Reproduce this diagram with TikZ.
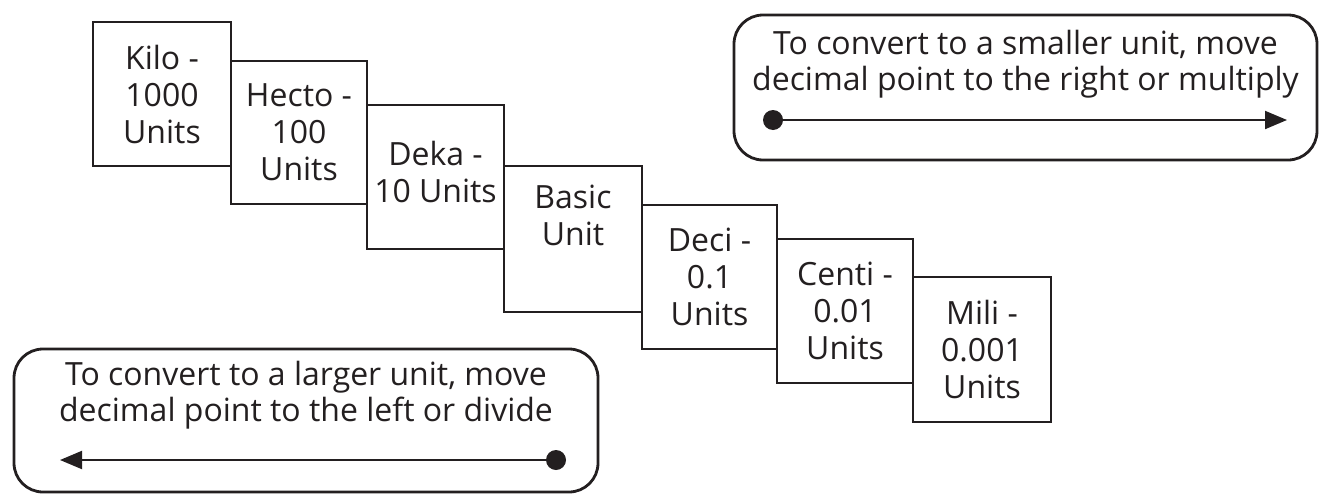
\documentclass[tikz,border=0pt]{standalone}
\usepackage{fontspec}
\setmainfont{Open Sans}
\usetikzlibrary{arrows.meta}
\definecolor{ink}{HTML}{231F20}
\begin{document}
\begin{tikzpicture}[x=1pt,y=1pt,
  unitbox/.style={draw=ink, line width=2.8pt, fill=white, align=center, inner sep=0pt,
    font=\fontsize{32}{37}\selectfont, text=ink},
  boxtext/.style={align=center, inner sep=0pt, font=\fontsize{32}{37}\selectfont, text=ink},
  notebox/.style={draw=ink, line width=2.8pt, rounded corners=29pt, inner sep=0pt},
  notetext/.style={align=center, inner sep=0pt, font=\fontsize{32}{36}\selectfont, text=ink},
  convarrow/.style={draw=ink, line width=2pt, -{Triangle[length=22pt,width=18pt]}}
]
\useasboundingbox (0,0) rectangle (1323,-498);
% unit boxes
\node[unitbox, minimum width=138pt, minimum height=144pt] (kilo) at (162,-94) {Kilo -\\1000\\Units};
\node[unitbox, minimum width=136pt, minimum height=143pt] (hecto) at (299,-132.5) {Hecto -\\100\\Units};
\node[unitbox, minimum width=137pt, minimum height=144pt] (deka) at (435.5,-177) {};
\node[boxtext] (dekatext) at ([yshift=5pt]deka.center) {Deka -\\10 Units};
\node[unitbox, minimum width=138pt, minimum height=146pt] (basic) at (573,-239) {Basic\\Unit\\\strut};
\node[unitbox, minimum width=135pt, minimum height=144pt] (deci) at (709.5,-277) {Deci -\\0.1\\Units};
\node[unitbox, minimum width=136pt, minimum height=144pt] (centi) at (845,-311) {Centi -\\0.01\\Units};
\node[unitbox, minimum width=138pt, minimum height=145pt] (mili) at (982,-349.5) {Mili -\\0.001\\Units};
% smaller-unit note
\node[notebox, minimum width=583pt, minimum height=145pt] (smallbox) at (1025.5,-87.5) {};
\node[notetext] (smalltext) at (1025.5,-64.5) {To convert to a smaller unit, move\\decimal point to the right or multiply};
\coordinate (s1) at (773,-120);
\coordinate (s2) at (1287,-120);
\draw[convarrow] (s1) -- (s2);
\fill[ink] (s1) circle (10pt);
% larger-unit note
\node[notebox, minimum width=584pt, minimum height=143pt] (largebox) at (306,-420.5) {};
\node[notetext] (largetext) at (306,-395.5) {To convert to a larger unit, move\\decimal point to the left or divide};
\coordinate (l1) at (556,-460);
\coordinate (l2) at (60,-460);
\draw[convarrow] (l1) -- (l2);
\fill[ink] (l1) circle (10pt);
\end{tikzpicture}
\end{document}
